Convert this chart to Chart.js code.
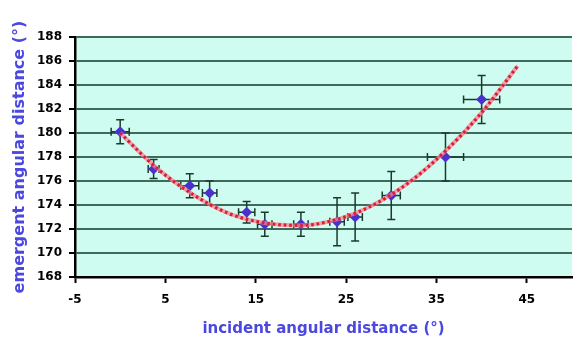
<!DOCTYPE html>
<html>
<head>
<meta charset="utf-8">
<script src="https://cdn.jsdelivr.net/npm/chart.js@4"></script>
<style>
  html, body { margin: 0; padding: 0; background: #ffffff; }
  #wrap { width: 575px; height: 345px; }
</style>
</head>
<body>
<div id="wrap"><canvas id="c" width="575" height="345"></canvas></div>
<script>
// Measured angles (degrees)
const incident = [0, 3.7, 7.7, 9.9, 14, 16, 20, 24, 26, 30, 36, 40];
const emergent = [180.1, 177.0, 175.6, 175.0, 173.4, 172.4, 172.4, 172.6, 173.0, 174.8, 178.0, 182.8];
// Uncertainties
const incidentErr = [1, 0.6, 1, 0.8, 0.9, 0.8, 0.8, 0.8, 0.8, 1, 2, 2];
const emergentErr = [1, 0.8, 1, 1, 0.9, 1, 1, 2, 2, 2, 2, 2];

// Polynomial trend curve
const trendX = [0, 4, 8, 12, 16, 20, 24, 28, 32, 36, 40, 44];
const trendY = [180.0, 177.1, 174.9, 173.3, 172.5, 172.3, 172.8, 174.0, 175.9, 178.5, 181.7, 185.6];

// Axis ticks
const xTicks = [-5, 5, 15, 25, 35, 45];
const yMin = 168, yMax = 188, yStep = 2;

const plotBg = {
  id: 'plotBg',
  beforeDraw(chart) {
    const { ctx, chartArea: a } = chart;
    ctx.save();
    ctx.fillStyle = '#cffcf0';
    ctx.fillRect(a.left, a.top, a.right - a.left, a.bottom - a.top);
    ctx.restore();
  }
};

const errorBars = {
  id: 'errorBars',
  afterDatasetsDraw(chart) {
    const { ctx } = chart;
    const xs = chart.scales.x, ys = chart.scales.y;
    const cap = 4;
    ctx.save();
    ctx.strokeStyle = '#1c3a2c';
    ctx.lineWidth = 1.5;
    incident.forEach((xv, i) => {
      const yv = emergent[i];
      const px = xs.getPixelForValue(xv), py = ys.getPixelForValue(yv);
      const yTop = ys.getPixelForValue(yv + emergentErr[i]);
      const yBot = ys.getPixelForValue(yv - emergentErr[i]);
      const xL = xs.getPixelForValue(xv - incidentErr[i]);
      const xR = xs.getPixelForValue(xv + incidentErr[i]);
      ctx.beginPath();
      ctx.moveTo(px, yTop); ctx.lineTo(px, yBot);
      ctx.moveTo(px - cap, yTop); ctx.lineTo(px + cap, yTop);
      ctx.moveTo(px - cap, yBot); ctx.lineTo(px + cap, yBot);
      ctx.moveTo(xL, py); ctx.lineTo(xR, py);
      ctx.moveTo(xL, py - cap); ctx.lineTo(xL, py + cap);
      ctx.moveTo(xR, py - cap); ctx.lineTo(xR, py + cap);
      ctx.stroke();
    });
    // diamond markers over the bars
    ctx.fillStyle = '#4a30d0';
    incident.forEach((xv, i) => {
      const px = xs.getPixelForValue(xv), py = ys.getPixelForValue(emergent[i]);
      const r = 5.5;
      ctx.beginPath();
      ctx.moveTo(px, py - r); ctx.lineTo(px + r, py); ctx.lineTo(px, py + r); ctx.lineTo(px - r, py);
      ctx.closePath();
      ctx.fill();
    });
    // dotted trend curve (pink band with red dots) on top
    const meta = chart.getDatasetMeta(0);
    const line = meta.dataset;
    const opts = line.options;
    const saved = { c: opts.borderColor, w: opts.borderWidth, d: opts.borderDash };
    opts.borderColor = 'rgba(245, 130, 150, 0.75)';
    opts.borderWidth = 4;
    opts.borderDash = [];
    line.draw(ctx, chart.chartArea);
    opts.borderColor = saved.c;
    opts.borderWidth = saved.w;
    opts.borderDash = saved.d;
    line.draw(ctx, chart.chartArea);
    ctx.restore();
  }
};

const tickFont = { family: 'DejaVu Sans', weight: 'bold', size: 12 };

new Chart(document.getElementById('c'), {
  type: 'scatter',
  data: {
    datasets: [
      {
        label: 'trend',
        data: trendX.map((x, i) => ({ x, y: trendY[i] })),
        showLine: true,
        borderColor: '#d81e32',
        borderWidth: 3,
        borderDash: [2.5, 3],
        pointRadius: 0,
        tension: 0.4,
        cubicInterpolationMode: 'monotone'
      },
      {
        label: 'measured',
        data: incident.map((x, i) => ({ x, y: emergent[i] })),
        pointRadius: 0,
        showLine: false
      }
    ]
  },
  options: {
    responsive: false,
    animation: false,
    devicePixelRatio: 1,
    layout: { padding: { top: 37, right: 3, left: 0, bottom: 0 } },
    plugins: { legend: { display: false }, tooltip: { enabled: false } },
    scales: {
      x: {
        type: 'linear',
        min: -5,
        max: 50,
        afterBuildTicks(scale) { scale.ticks = xTicks.map(v => ({ value: v })); },
        afterFit(scale) { scale.height = 68; },
        border: { display: true, color: '#000000', width: 2.5 },
        grid: { drawOnChartArea: false, drawTicks: true, tickLength: 6, tickColor: '#000000', tickWidth: 2 },
        ticks: { color: '#000000', font: tickFont, padding: 10, maxRotation: 0 },
        title: {
          display: true,
          text: 'incident angular distance (°)',
          color: '#4b48e0',
          font: { family: 'DejaVu Sans', weight: 'bold', size: 15 },
          padding: { top: 0, bottom: 7 }
        }
      },
      y: {
        type: 'linear',
        min: yMin,
        max: yMax,
        ticks: { stepSize: yStep, color: '#000000', font: tickFont, padding: 7 },
        afterFit(scale) { scale.width = 75; },
        border: { display: true, color: '#000000', width: 2.5 },
        grid: { color: '#3d6a5a', lineWidth: 2, drawTicks: true, tickLength: 6, tickColor: '#000000', tickWidth: 2 },
        title: {
          display: true,
          text: 'emergent angular distance (°)',
          color: '#4b48e0',
          font: { family: 'DejaVu Sans', weight: 'bold', size: 16 },
          padding: { top: 10, bottom: 0 }
        }
      }
    }
  },
  plugins: [plotBg, errorBars]
});
</script>
</body>
</html>
